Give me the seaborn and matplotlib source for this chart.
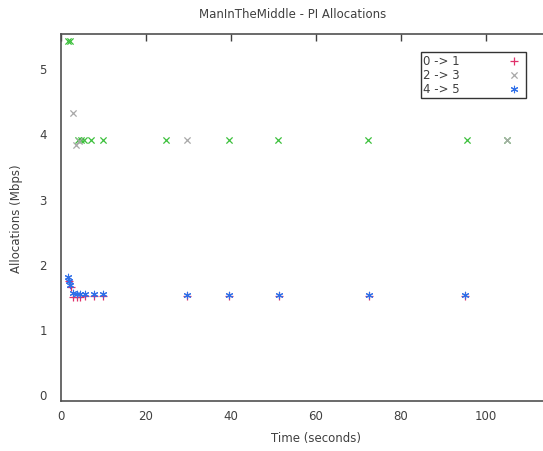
import matplotlib
matplotlib.use("Agg")
import matplotlib.pyplot as plt
import seaborn as sns
import pandas as pd

# ---- data ----
s01_t = [2.0, 2.35, 3.0, 3.8, 4.5, 5.6, 7.9, 10.0, 29.8, 39.7, 51.3, 72.5, 95.2]
s01_v = [1.73, 1.64, 1.50, 1.49, 1.50, 1.51, 1.51, 1.51, 1.51, 1.51, 1.51, 1.51, 1.51]

s23_t = [2.9, 3.6, 4.3, 29.6, 104.9]
s23_v = [4.31, 3.82, 3.88, 3.90, 3.90]

s23g_t = [1.6, 2.1, 4.0, 4.7, 5.5, 7.2, 9.9, 24.8, 39.6, 51.2, 72.4, 95.5, 104.9]
s23g_v = [5.41, 5.41, 3.90, 3.90, 3.90, 3.90, 3.90, 3.90, 3.90, 3.90, 3.90, 3.90, 3.90]

s45_t = [1.8, 1.9, 2.2, 3.0, 3.8, 4.5, 5.6, 7.9, 10.0, 29.8, 39.7, 51.3, 72.5, 95.2]
s45_v = [1.80, 1.74, 1.68, 1.56, 1.54, 1.54, 1.54, 1.54, 1.54, 1.52, 1.52, 1.52, 1.52, 1.52]

labels = ["0 -> 1", "2 -> 3", "4 -> 5"]
x_ticks = [0, 20, 40, 60, 80, 100]
y_ticks = [0, 1, 2, 3, 4, 5]

sns.set_style("white")
plt.rcParams['font.family'] = ['DejaVu Sans']
txt = "#404040"

fig = plt.figure(figsize=(5.43, 4.52), dpi=100)
ax = fig.add_axes([60.7 / 543, 50 / 452, 510 / 543, 367 / 452])

df01 = pd.DataFrame({"t": s01_t, "v": s01_v})
df23 = pd.DataFrame({"t": s23_t, "v": s23_v})
df23g = pd.DataFrame({"t": s23g_t, "v": s23g_v})
df45 = pd.DataFrame({"t": s45_t, "v": s45_v})

sns.scatterplot(data=df01, x="t", y="v", marker="+", color="#e0306a", s=26,
                linewidth=0.9, ax=ax, label=labels[0], zorder=3)
sns.scatterplot(data=df23g, x="t", y="v", marker="x", color="#3cc03c", s=20,
                linewidth=0.9, ax=ax, legend=False, zorder=3)
sns.scatterplot(data=df23, x="t", y="v", marker="x", color="#a8a8a8", s=20,
                linewidth=0.9, ax=ax, label=labels[1], zorder=3)
sns.scatterplot(data=df45, x="t", y="v", marker=(6, 2, 0), color="#2f6fe8", s=22,
                linewidth=0.8, ax=ax, label=labels[2], zorder=4)

ax.set_xlim(0, 120)
ax.set_ylim(-0.1, 5.52)
ax.set_xticks(x_ticks)
ax.set_yticks(y_ticks)
ax.tick_params(direction="in", length=5, width=1, colors="#404040",
               labelcolor=txt, labelsize=8.5, top=True, right=True)
ax.tick_params(axis="x", pad=6)
ax.tick_params(axis="y", pad=10)
for sp in ax.spines.values():
    sp.set_color("#505050")
    sp.set_linewidth(1.2)

ax.set_xlabel("Time (seconds)", color=txt, fontsize=8.5, labelpad=6)
ax.set_ylabel("Allocations (Mbps)", color=txt, fontsize=8.5, labelpad=12)
fig.text(293 / 543, 1 - 14 / 452, "ManInTheMiddle - PI Allocations", ha="center",
         va="center", color=txt, fontsize=8.5)

leg = ax.legend(loc="upper left", bbox_to_anchor=((420.5 - 60.7) / 510, (402 - 52.5) / 367),
                markerfirst=False, frameon=True, fancybox=False, fontsize=8.5,
                handletextpad=3.8, borderpad=0.25, labelspacing=0.05,
                handlelength=1.5, borderaxespad=0)
leg.get_frame().set_edgecolor("black")
leg.get_frame().set_linewidth(1.0)
for t in leg.get_texts():
    t.set_color(txt)

fig.savefig("out.png", dpi=100)
